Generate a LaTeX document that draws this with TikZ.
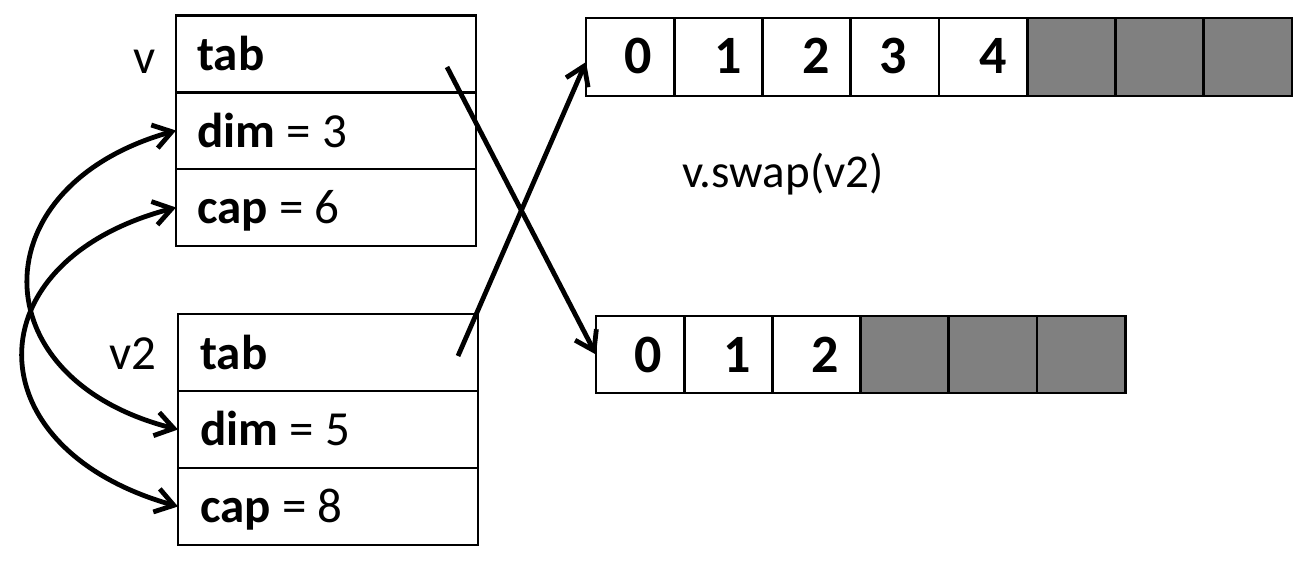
\documentclass[tikz,border=0pt]{standalone}
\usepackage{fontspec}
\setmainfont{Carlito}
\usetikzlibrary{arrows.meta,calc}
\definecolor{cellgray}{RGB}{128,128,128}
\begin{document}
\begin{tikzpicture}[x=0.5pt,y=-0.5pt,
 row/.style={draw=black,line width=1.4pt,minimum width=150pt,minimum height=38.5pt,inner sep=0pt,outer sep=0pt},
 cell/.style={draw=black,line width=1.4pt,minimum width=44.125pt,minimum height=39pt,inner sep=0pt,outer sep=0pt},
 bcell/.style={cell,minimum width=44.1pt,minimum height=38.5pt},
 grey/.style={fill=cellgray},
 txt/.style={inner sep=0pt,font=\fontsize{24.5}{29}\selectfont,anchor=base west},
 swaptxt/.style={txt,font=\fontsize{23.5}{28}\selectfont},
 dig/.style={inner sep=0pt,font=\fontsize{27}{32}\selectfont\bfseries,anchor=base},
 link/.style={line width=2.4pt,-{Straight Barb[length=9pt,width=12pt]}},
 swaplink/.style={line width=2.4pt,{Straight Barb[length=9pt,width=12pt]}-{Straight Barb[length=9pt,width=12pt]}}]
\useasboundingbox (0,0) rectangle (1307,563);

% struct v
\node[row] (vtab) at (326,54) {};
\node[row] (vdim) at (326,130.5) {};
\node[row] (vcap) at (326,207.5) {};
% struct v2
\node[row] (wtab) at (328,352.5) {};
\node[row] (wdim) at (328,429.5) {};
\node[row] (wcap) at (328,506.5) {};

\node[txt] (lv) at (133,73) {v};
\node[txt] (lw) at (109,369) {v2};
\node[txt] (tv1) at (197,70) {\textbf{tab}};
\node[txt] (tv2) at (197,147) {\textbf{dim} = 3};
\node[txt] (tv3) at (197,223) {\textbf{cap} = 6};
\node[txt] (tw1) at (200,369) {\textbf{tab}};
\node[txt] (tw2) at (200,445) {\textbf{dim} = 5};
\node[txt] (tw3) at (200,522) {\textbf{cap} = 8};

% top array (8 cells)
\foreach \i in {0,...,4} {\node[cell] (a\i) at ({586+88.25*\i+44.125},57) {};}
\foreach \i in {5,6,7} {\node[cell,grey] (a\i) at ({586+88.25*\i+44.125},57) {};}
% bottom array (6 cells)
\foreach \i in {0,1,2} {\node[bcell] (b\i) at ({596+88.2*\i+44.1},354.5) {};}
\foreach \i in {3,4,5} {\node[bcell,grey] (b\i) at ({596+88.2*\i+44.1},354.5) {};}

\node[dig] (da0) at (638,73) {0};
\node[dig] (da1) at (728,73) {1};
\node[dig] (da2) at (816,73) {2};
\node[dig] (da3) at (893,73) {3};
\node[dig] (da4) at (993,73) {4};
\node[dig] (db0) at (648,372) {0};
\node[dig] (db1) at (737,372) {1};
\node[dig] (db2) at (825,372) {2};

\node[swaptxt] (swap) at (682,187) {v.swap(v2)};

% pointers
\coordinate (vptr) at (447,67);
\coordinate (wptr) at (458,356);
\draw[link] (vptr) -- (b0.west);
\draw[link] (wptr) -- ($(a0.west)+(0,5)$);

% swapped fields
\draw[swaplink] (vdim.west) .. controls (-21,186) and (-21,379) .. (wdim.west);
\draw[swaplink] (vcap.west) .. controls (-28,261) and (-28,448) .. (wcap.west);
\end{tikzpicture}
\end{document}
